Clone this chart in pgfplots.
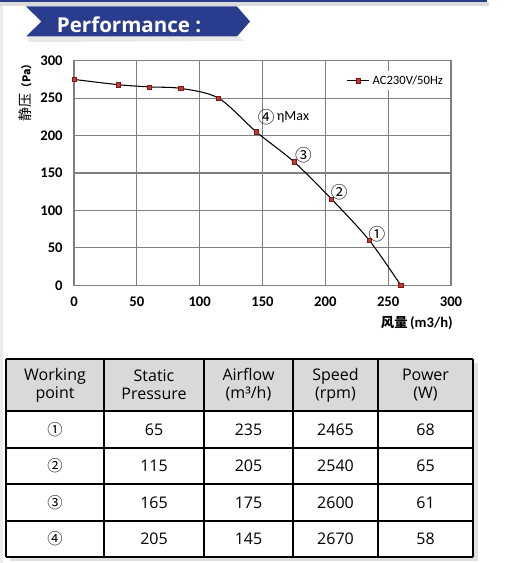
\documentclass[border=0pt]{standalone}
\usepackage{pgfplots}
\pgfplotsset{compat=1.18}
\usepackage{fontspec}
\setmainfont{Carlito}
\newfontfamily\cjk{Noto Sans CJK SC}
\newfontfamily\tabfont{Open Sans}
\definecolor{bannerblue}{HTML}{2A3C8E}
\definecolor{markred}{HTML}{C0392B}
\definecolor{markedge}{HTML}{7A1A1A}
\definecolor{headgray}{HTML}{D9D9D9}
\definecolor{gridgray}{HTML}{7F7F7F}

\begin{document}
\begin{tikzpicture}[x=0.75pt,y=-0.75pt]
\path[use as bounding box] (0,0) rectangle (507,563);
% page edge
\fill[black!8] (0,0) rectangle (3,563);
% top bar
\fill[black!14] (0,2.5) rectangle (489,6);
\fill[bannerblue] (0,0) rectangle (487,2.5);
% banner
\fill[black!9] (28,36.5) -- (240,36.5) -- (244,41) -- (28,42) -- cycle;
\fill[bannerblue] (26,6.5) -- (237,6.5) -- (250,21.5) -- (237,36.5) -- (26,36.5) -- (41.5,21.5) -- cycle;
\node[anchor=base west, text=white, inner sep=0, font=\tabfont\bfseries\fontsize{15.4}{18}\selectfont] at (56.7,32.5) {Performance :};

\coordinate (plotSW) at (74,285.3);
\begin{axis}[at={(plotSW)}, anchor=south west, scale only axis,
  width=282.75pt, height=168.45pt,
  xmin=0, xmax=300, ymin=0, ymax=300,
  xtick={0,50,...,300}, ytick={0,50,...,300},
  grid=major, major grid style={draw=gridgray, line width=0.8pt},
  axis line style={draw=gridgray, line width=0.8pt},
  major tick length=0pt,
  tick label style={font=\bfseries\fontsize{11}{13}\selectfont},
  /pgf/number format/assume math mode=true,
  xticklabel style={yshift=-5pt},
  yticklabel style={xshift=-5pt},
  clip=false,
  legend style={at={(rel axis cs:0.99,0.911)}, anchor=east, draw=none, fill=white,
    font=\fontsize{9.5}{11}\selectfont, inner sep=1pt, row sep=0pt},
  legend cell align=left,
]
\addplot[black, line width=0.8pt, smooth, mark=square*, mark size=1.6pt,
  mark options={fill=markred, draw=markedge, line width=0.4pt}] coordinates {
  (0,275) (35,268) (60,265) (85,263) (115,250) (145,205) (175,165) (205,115) (235,60) (260,0)
};
\addlegendentry{AC230V/50Hz}
\node[font=\cjk\fontsize{12.5}{14}\selectfont] at (axis cs:153,224) {④};
\node[anchor=west, inner sep=0, font=\fontsize{10.5}{12}\selectfont] at (axis cs:161.3,224) {ηMax};
\node[font=\cjk\fontsize{12.5}{14}\selectfont] at (axis cs:182.5,174) {③};
\node[font=\cjk\fontsize{12.5}{14}\selectfont] at (axis cs:211,125) {②};
\node[font=\cjk\fontsize{12.5}{14}\selectfont] at (axis cs:241,68) {①};
\end{axis}

% axis titles
\node[rotate=90, inner sep=0] at (25,90) {{\cjk\fontsize{10.5}{12}\selectfont 静压}{\cjk\bfseries\fontsize{8}{9}\selectfont （Pa）}};
\node[anchor=east, inner sep=0] at (453,323) {{\cjk\bfseries\fontsize{10}{12}\selectfont 风量}{\bfseries\fontsize{11}{12}\selectfont\,(m3/h)}};

% table
\fill[black!12] (10,363) rectangle (478,561);
\fill[white] (6,411) rectangle (473,557);
\fill[headgray] (6,359) rectangle (473,411);
\foreach \x in {6,104,204,293,378,473} \draw[line width=1.5pt] (\x,359) -- (\x,557);
\foreach \y in {359,411,448,484,521,557} \draw[line width=1.5pt] (6,\y) -- (473,\y);
\begin{scope}[every node/.style={font=\tabfont\fontsize{12}{13.5}\selectfont, align=center, inner sep=0}]
\node at (55,385) {Working\\point};
\node at (154,385) {Static\\Pressure};
\node at (248.5,385) {Airflow\\(m³/h)};
\node at (335.5,385) {Speed\\(rpm)};
\node at (425.5,385) {Power\\(W)};
% rows
\node[font=\cjk\fontsize{11.5}{13}\selectfont] at (55,429.5) {①};
\node at (154,429.5) {65}; \node at (248.5,429.5) {235}; \node at (335.5,429.5) {2465}; \node at (425.5,429.5) {68};
\node[font=\cjk\fontsize{11.5}{13}\selectfont] at (55,466) {②};
\node at (154,466) {115}; \node at (248.5,466) {205}; \node at (335.5,466) {2540}; \node at (425.5,466) {65};
\node[font=\cjk\fontsize{11.5}{13}\selectfont] at (55,502.5) {③};
\node at (154,502.5) {165}; \node at (248.5,502.5) {175}; \node at (335.5,502.5) {2600}; \node at (425.5,502.5) {61};
\node[font=\cjk\fontsize{11.5}{13}\selectfont] at (55,539) {④};
\node at (154,539) {205}; \node at (248.5,539) {145}; \node at (335.5,539) {2670}; \node at (425.5,539) {58};
\end{scope}
\end{tikzpicture}
\end{document}
